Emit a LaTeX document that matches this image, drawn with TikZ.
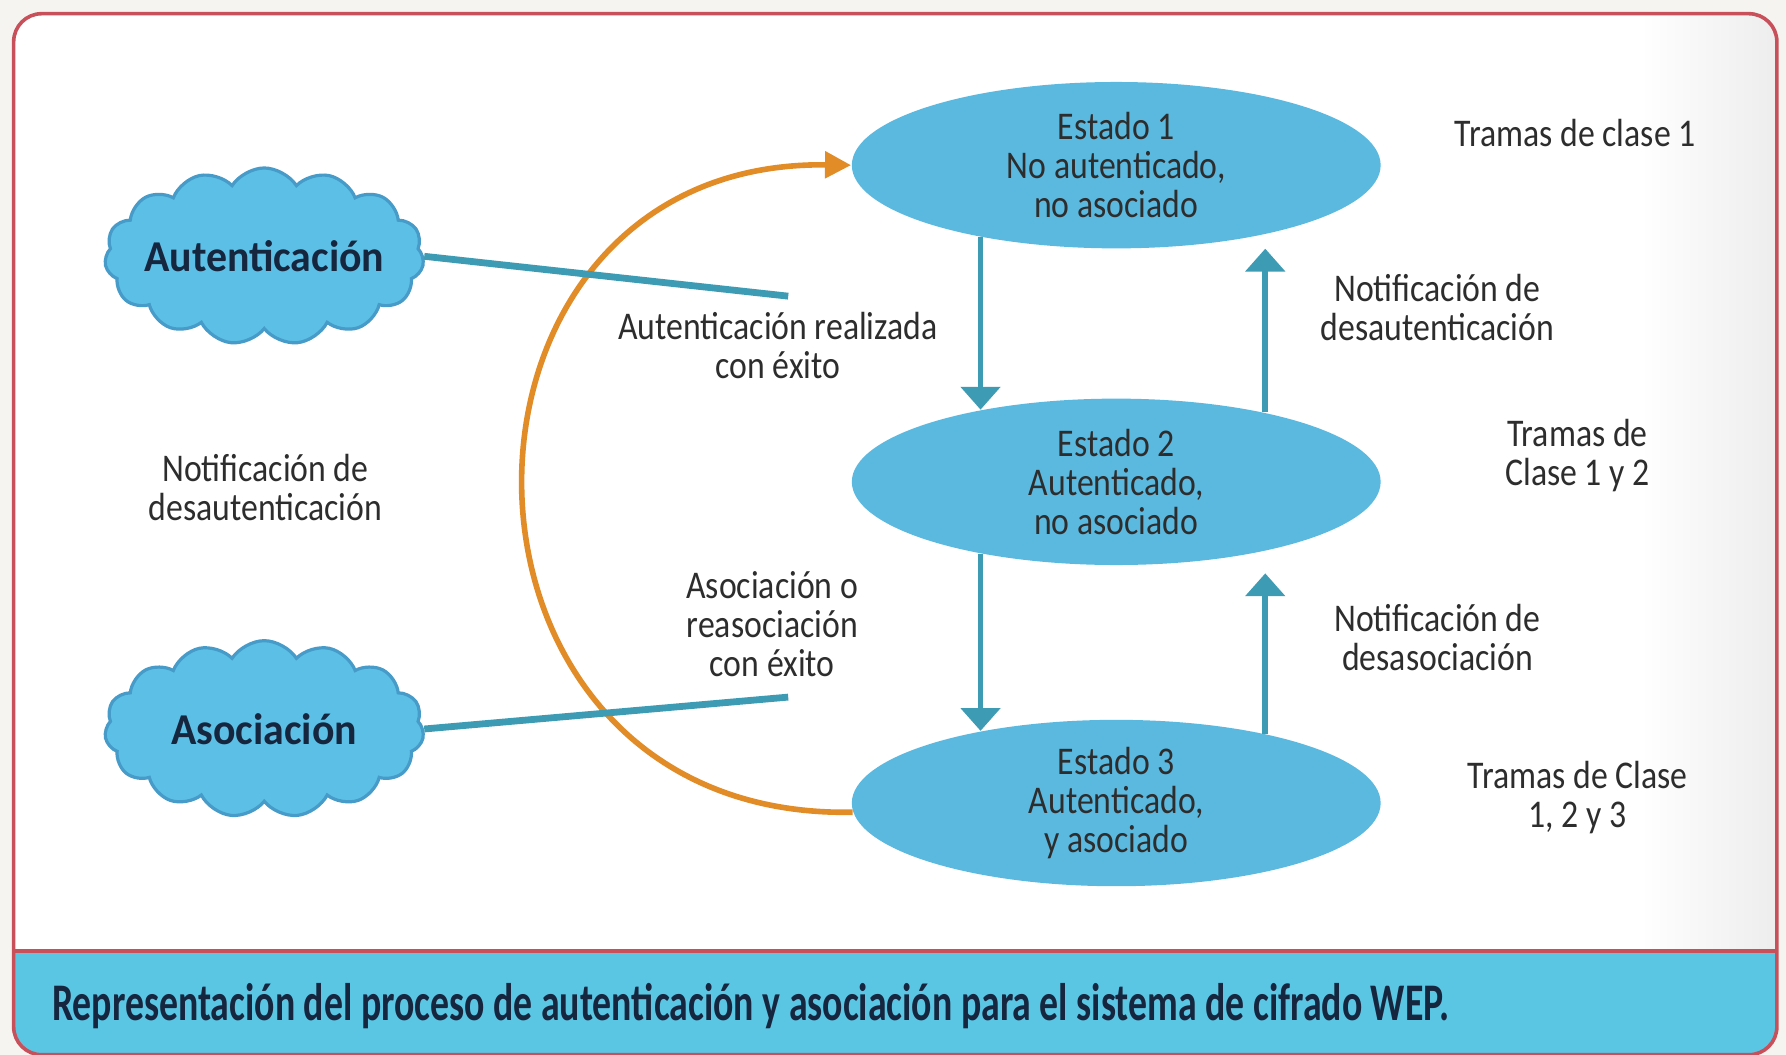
\documentclass[tikz,border=0pt]{standalone}
\usepackage{fontspec}
\setmainfont[FakeStretch=0.86]{Carlito}
\newfontfamily\negrita[FakeStretch=0.95]{Carlito}
\newfontfamily\pie[FakeStretch=0.715]{Carlito}
\usepackage{tikz}
\usetikzlibrary{shapes.geometric,shapes.symbols,arrows.meta}
\definecolor{fondo}{RGB}{246,244,240}
\definecolor{borde}{RGB}{200,80,90}
\definecolor{estado}{RGB}{91,185,224}
\definecolor{nube}{RGB}{92,192,230}
\definecolor{nubeborde}{RGB}{70,155,200}
\definecolor{flechaazul}{RGB}{62,155,180}
\definecolor{naranja}{RGB}{226,140,40}
\definecolor{banda}{RGB}{90,198,228}
\definecolor{texto}{RGB}{45,45,45}
\definecolor{marino}{RGB}{22,38,62}

\begin{document}
\begin{tikzpicture}[x=0.01cm,y=-0.01cm,
	estadonodo/.style={ellipse,fill=estado,minimum width=4.64cm,minimum height=1.46cm,
		inner sep=0pt,align=center,text=texto,font=\fontsize{9.8}{9.7}\selectfont},
	nubenodo/.style={cloud,cloud puffs=15,cloud puff arc=115,aspect=1.8,fill=nube,draw=nubeborde,
		line width=0.8pt,minimum width=2.8cm,minimum height=1.55cm,inner xsep=-10pt,inner ysep=0pt,
		text=marino,font=\negrita\bfseries\fontsize{11}{12}\selectfont},
	etiqueta/.style={align=center,text=texto,inner sep=1pt,font=\fontsize{9.8}{9.7}\selectfont},
	flecha/.style={flechaazul,line width=1.4pt,-{Triangle[width=9.7pt,length=5.7pt]}},
	enlace/.style={flechaazul,line width=1.7pt},
	arco/.style={naranja,line width=1.4pt,-{Triangle[width=6.5pt,length=6.5pt]}}]
		%% fondo y marco
		\useasboundingbox (0,0) rectangle (1568,926);
		\fill[fondo] (0,0) rectangle (1568,926);
		\begin{scope}
			\clip[rounded corners=7pt] (12,12) rectangle (1560,926);
			\fill[white] (12,12) rectangle (1560,926);
			\shade[left color=white,right color=gray!14] (1440,12) rectangle (1560,835);
			\fill[banda] (12,835) rectangle (1560,926);
		\end{scope}
		\draw[borde,line width=0.9pt,rounded corners=7pt] (12,12) rectangle (1560,926);
		\draw[borde,line width=1.1pt] (12,835) -- (1560,835);

		%% estados
		\node[estadonodo] (e1) at (980,145) {Estado 1\\No autenticado,\\no asociado};
		\node[estadonodo] (e2) at (980,423) {Estado 2\\Autenticado,\\no asociado};
		\node[estadonodo] (e3) at (980,705) {Estado 3\\Autenticado,\\y asociado};

		%% nubes
		\node[nubenodo] (auth) at (232,225) {Autenticación};
		\node[nubenodo] (asoc) at (232,640) {Asociación};

		% transiciones entre estados
		\draw[flecha] (e1.-152) -- (e2.152);
		\draw[flecha] (e2.-152) -- (e3.152);
		\draw[flecha,shorten >=3.5pt] (e2.25.7) -- (e1.-25.7);
		\draw[flecha,shorten >=5.5pt] (e3.25.7) -- (e2.-25.7);

		% arco de vuelta al estado 1
		\draw[arco] (e3.182) .. controls (365,720) and (365,140) .. (e1.west);

		% lineas de las nubes
		\coordinate (finauth) at (692,260);
		\coordinate (finasoc) at (692,612);
		\draw[enlace] (auth.east) -- (finauth);
		\draw[enlace] (asoc.east) -- (finasoc);

		%% etiquetas
		\node[etiqueta] (lauth) at (683,303) {Autenticación realizada\\con éxito};
		\node[etiqueta] (lasoc) at (678,548) {Asociación o\\reasociación\\con éxito};
		\node[etiqueta] (lnot) at (233,428) {Notificación de\\desautenticación};
		\node[etiqueta] (t1) at (1383,117) {Tramas de clase 1};
		\node[etiqueta] (n1) at (1262,270) {Notificación de\\desautenticación};
		\node[etiqueta] (t2) at (1385,400) {Tramas de\\Clase 1 y 2};
		\node[etiqueta] (n2) at (1262,560) {Notificación de\\desasociación};
		\node[etiqueta] (t3) at (1385,700) {Tramas de Clase\\1, 2 y 3};

		% pie
		\node[anchor=west,inner sep=0pt,text=marino,font=\pie\bfseries\fontsize{13.2}{14}\selectfont]
			(pie) at (45,883) {Representación del proceso de autenticación y asociación para el sistema de cifrado WEP.};
	\end{tikzpicture}
\end{document}
